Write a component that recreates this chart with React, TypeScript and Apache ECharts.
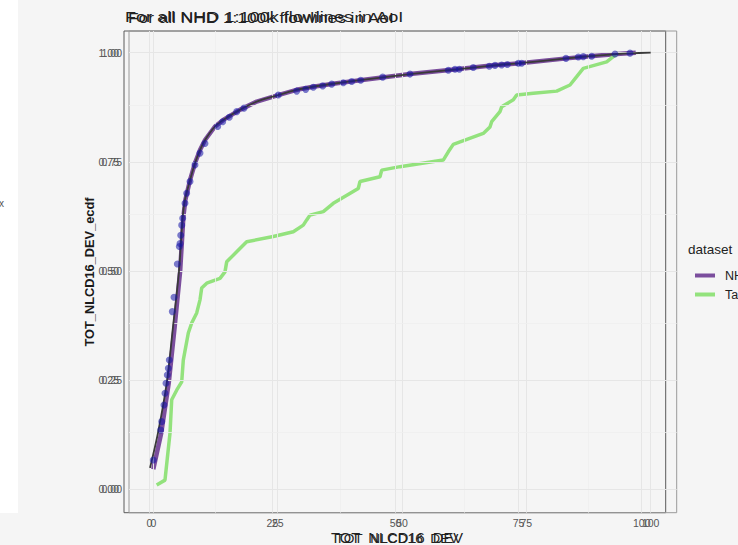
import React, { useEffect, useRef } from "react";
import * as echarts from "echarts";

const FONT = "'Liberation Sans', Arial, sans-serif";

// axis ticks
const X_TICKS = [0, 25, 50, 75, 100];
const X_MINOR = [12.5, 37.5, 62.5, 87.5];
const Y_TICKS = [0, 0.25, 0.5, 0.75, 1];
const Y_MINOR = [0.125, 0.375, 0.625, 0.875];

// NHD flowlines: empirical cdf of TOT_NLCD16_DEV
const nhdEcdf: [number, number][] = [
  [0, 0.046], [1.6, 0.129], [3.1, 0.243], [4.3, 0.372], [5.4, 0.5], [6.05, 0.624],
  [6.45, 0.663], [7.38, 0.708], [8.38, 0.747], [9.39, 0.777], [10.4, 0.8], [12.4, 0.831],
  [14.07, 0.846], [17.4, 0.869], [20.8, 0.888], [25.1, 0.903], [28.8, 0.915], [32.1, 0.922],
  [36.9, 0.93], [41.6, 0.937], [51.6, 0.951], [61.0, 0.962], [68.4, 0.971], [73.7, 0.976],
  [83.1, 0.987], [87.8, 0.992], [93.2, 0.997], [97, 1.0],
];

// smooth curve through the NHD values
const nhdCurve: [number, number][] = [
  [-0.66, 0.049], [0.94, 0.129], [2.69, 0.243], [3.96, 0.372], [5.17, 0.5], [5.91, 0.624],
  [6.37, 0.663], [7.38, 0.708], [8.38, 0.747], [9.39, 0.777], [10.4, 0.8], [12.4, 0.831],
  [14.07, 0.846], [17.4, 0.869], [20.8, 0.888], [25.1, 0.903], [28.8, 0.915], [32.1, 0.922],
  [36.9, 0.93], [41.6, 0.937], [51.6, 0.951], [61.0, 0.962], [68.4, 0.971], [73.7, 0.976],
  [83.1, 0.987], [87.8, 0.992], [93.2, 0.997], [95.8, 0.9986], [100, 1.0],
];

// individual NHD observations
const nhdPoints: [number, number][] = [
  [0, 0.067], [1.49, 0.136], [1.69, 0.155], [2.15, 0.193], [2.35, 0.22], [2.55, 0.243],
  [2.81, 0.262], [3.02, 0.277], [3.22, 0.296], [3.82, 0.407], [4.16, 0.44], [4.83, 0.516],
  [5.23, 0.556], [5.37, 0.563], [5.51, 0.582], [5.71, 0.605], [5.91, 0.621], [6.37, 0.655],
  [6.71, 0.678], [7.38, 0.705], [8.38, 0.743], [9.39, 0.77], [10.39, 0.792], [12.95, 0.831],
  [13.95, 0.842], [15.28, 0.852], [16.77, 0.865], [18.23, 0.873], [25.13, 0.903], [28.83, 0.912],
  [30.64, 0.916], [32.17, 0.921], [34.06, 0.924], [35.87, 0.928], [38.2, 0.931], [39.89, 0.934],
  [41.7, 0.937], [46.12, 0.944], [51.61, 0.951], [59.31, 0.96], [60.66, 0.962], [61.52, 0.962],
  [64.33, 0.966], [67.55, 0.969], [68.7, 0.971], [70.04, 0.972], [71.17, 0.973], [73.38, 0.976],
  [74.07, 0.976], [82.97, 0.987], [85.45, 0.99], [86.45, 0.991], [88.14, 0.992], [92.82, 0.997],
  [95.84, 0.999],
];

// Target flowlines: empirical cdf of TOT_NLCD16_DEV
const targetEcdf: [number, number][] = [
  [0.68, 0.01], [2.35, 0.021], [3.36, 0.129], [3.7, 0.205], [4.7, 0.227], [5.71, 0.246],
  [6.03, 0.296], [7.04, 0.358], [7.72, 0.381], [8.73, 0.404], [9.39, 0.434], [9.73, 0.461],
  [10.74, 0.472], [13.41, 0.483], [14.41, 0.498], [14.76, 0.521], [16.77, 0.544], [18.78, 0.567],
  [24.13, 0.579], [28.15, 0.59], [30.16, 0.605], [30.84, 0.617], [31.5, 0.628], [34.18, 0.636],
  [36.19, 0.655], [41.21, 0.689], [41.56, 0.705], [45.58, 0.716], [45.92, 0.731], [49.6, 0.739],
  [58.3, 0.754], [59.31, 0.773], [60.31, 0.79], [66.34, 0.815], [67.69, 0.83], [68.03, 0.842],
  [69.7, 0.865], [70.04, 0.876], [72.38, 0.892], [73.06, 0.903], [76.4, 0.907], [81.1, 0.912],
  [83.78, 0.926], [85.12, 0.945], [86.45, 0.964], [91.15, 0.979], [92.48, 0.991], [93.49, 1.0],
];

const TITLE = "For all NHD 1:100k flowlines in AoI";
const X_TITLE = "TOT_NLCD16_DEV";
const Y_TITLE = "TOT_NLCD16_DEV_ecdf";
const LEGEND_TITLE = "dataset";

const GRID_MAJOR = "#e6e6e6";
const GRID_MINOR = "#efefef";

function gridLines(major: number[], minor: number[], key: "xAxis" | "yAxis") {
  return [
    ...minor.map((v) => ({ [key]: v, lineStyle: { color: GRID_MINOR, width: 0.8, type: "solid" } })),
    ...major.map((v) => ({ [key]: v, lineStyle: { color: GRID_MAJOR, width: 1, type: "solid" } })),
  ];
}

function xAxisDef(gridIndex: number, min: number, max: number, showTick: boolean) {
  return {
    type: "value",
    gridIndex,
    min,
    max,
    axisLine: { show: false },
    axisTick: {
      show: showTick,
      customValues: X_TICKS,
      length: 3,
      lineStyle: { color: "#333", width: 1 },
    },
    axisLabel: {
      customValues: X_TICKS,
      margin: 5,
      color: "#555",
      fontSize: 10.5,
      fontFamily: FONT,
      formatter: (v: number) => String(v),
    },
    splitLine: { show: false },
  };
}

function yAxisDef(gridIndex: number, margin: number, showTick: boolean) {
  return {
    type: "value",
    gridIndex,
    min: -0.0536,
    max: 1.0497,
    axisLine: { show: false },
    axisTick: {
      show: showTick,
      customValues: Y_TICKS,
      length: 3,
      lineStyle: { color: "#333", width: 1 },
    },
    axisLabel: {
      customValues: Y_TICKS,
      margin,
      color: "#555",
      fontSize: 10.5,
      fontFamily: FONT,
      formatter: (v: number) => v.toFixed(2),
    },
    splitLine: { show: false },
  };
}

function markLineDef(data: any[]) {
  return {
    silent: true,
    symbol: ["none", "none"],
    label: { show: false },
    emphasis: { disabled: true },
    lineStyle: { type: "solid" },
    data,
  };
}

export default function App() {
  const ref = useRef<HTMLDivElement>(null);

  useEffect(() => {
    if (!ref.current) return;
    const chart = echarts.init(ref.current, null, { renderer: "svg" });

    const option: any = {
      animation: false,
      backgroundColor: "#f5f5f5",
      grid: [
        { left: 124, top: 31, width: 541.7, height: 481.7, show: true, borderColor: "#5a5a5a", borderWidth: 1, backgroundColor: "transparent" },
        { left: 129, top: 31, width: 547.7, height: 481.7, show: true, borderColor: "#9a9a9a", borderWidth: 1, backgroundColor: "transparent" },
      ],
      xAxis: [xAxisDef(0, -5.14, 104.87, true), xAxisDef(1, -4.885, 105.23, true)],
      yAxis: [yAxisDef(0, 5, true), yAxisDef(1, 7, false)],
      legend: {
        data: ["NHD", "Target"],
        orient: "vertical",
        left: 690,
        top: 264,
        icon: "rect",
        itemWidth: 20,
        itemHeight: 4,
        itemGap: 6,
        selectedMode: false,
        textStyle: { fontSize: 12.5, color: "#222", fontFamily: FONT, padding: [0, 0, 0, 5] },
      },
      series: [
        {
          type: "line",
          name: "gridA",
          xAxisIndex: 0,
          yAxisIndex: 0,
          data: [],
          z: 1,
          silent: true,
          markLine: markLineDef(gridLines(X_TICKS, [], "xAxis")),
        },
        {
          type: "line",
          name: "gridB",
          xAxisIndex: 1,
          yAxisIndex: 1,
          data: [],
          z: 1,
          silent: true,
          markLine: markLineDef([
            ...gridLines(X_TICKS, X_MINOR, "xAxis"),
            ...gridLines(Y_TICKS, Y_MINOR, "yAxis"),
          ]),
        },
        {
          type: "line",
          name: "NHD",
          xAxisIndex: 1,
          yAxisIndex: 1,
          data: nhdEcdf,
          color: "#7b4e9d",
          showSymbol: false,
          symbol: "none",
          lineStyle: { width: 4.5, color: "#7b4e9d" },
          z: 3,
        },
        {
          type: "line",
          name: "Target",
          xAxisIndex: 1,
          yAxisIndex: 1,
          data: targetEcdf,
          color: "#93e27d",
          showSymbol: false,
          symbol: "none",
          lineStyle: { width: 3.5, color: "#93e27d" },
          z: 4,
        },
        {
          type: "line",
          name: "curve",
          xAxisIndex: 1,
          yAxisIndex: 1,
          data: nhdCurve,
          smooth: 0.3,
          showSymbol: false,
          symbol: "none",
          lineStyle: { width: 1.8, color: "#3a3a3a" },
          z: 5,
        },
        {
          type: "scatter",
          name: "points",
          xAxisIndex: 1,
          yAxisIndex: 1,
          data: nhdPoints,
          symbolSize: 7,
          itemStyle: { color: "#1212a6", opacity: 0.55 },
          z: 6,
        },
      ],
      graphic: [
        { type: "rect", shape: { x: 0, y: 0, width: 18, height: 513 }, style: { fill: "#ffffff" }, z: -10, silent: true },
        { type: "text", x: -1, y: 203, style: { text: "x", fontSize: 10, fill: "#555", fontFamily: FONT, verticalAlign: "middle" } },
        { type: "text", x: 125, y: 17, scaleX: 1.34, scaleY: 1.12, style: { text: TITLE, fontSize: 13.5, fill: "#222", fontFamily: FONT, verticalAlign: "middle" } },
        { type: "text", x: 128, y: 17, scaleX: 1.28, scaleY: 1.12, style: { text: TITLE, fontSize: 13.5, fill: "#222", fontFamily: FONT, verticalAlign: "middle" } },
        { type: "text", x: 397, y: 538, style: { text: X_TITLE, fontSize: 14.7, fill: "#222", fontFamily: FONT, align: "center", verticalAlign: "middle" } },
        { type: "text", x: 397, y: 538, style: { text: X_TITLE, fontSize: 13.7, fill: "#222", fontFamily: FONT, align: "center", verticalAlign: "middle" } },
        { type: "text", x: 89, y: 272, rotation: Math.PI / 2, style: { text: Y_TITLE, fontSize: 12.8, fontWeight: "bold", fill: "#1a1a1a", fontFamily: FONT, align: "center", verticalAlign: "middle" } },
        { type: "text", x: 688, y: 249, style: { text: LEGEND_TITLE, fontSize: 13.5, fill: "#222", fontFamily: FONT, verticalAlign: "middle" } },
      ],
    };

    chart.setOption(option);
    return () => chart.dispose();
  }, []);

  return <div ref={ref} style={{ position: "fixed", left: 0, top: 0, width: 738, height: 545 }} />;
}
